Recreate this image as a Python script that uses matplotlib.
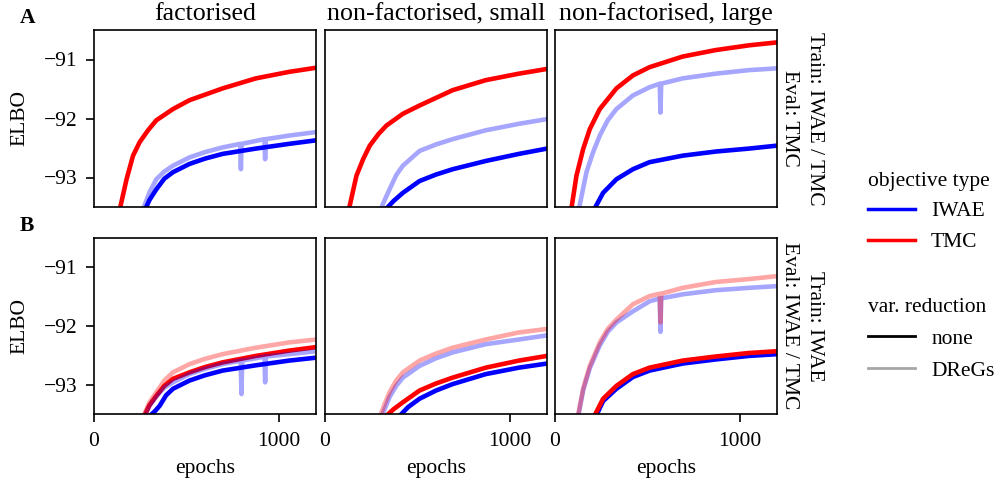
import matplotlib
matplotlib.use("Agg")
import matplotlib.pyplot as plt
from matplotlib.lines import Line2D

plt.rcParams['font.family'] = ['Liberation Serif', 'DejaVu Serif']
plt.rcParams['font.size'] = 15.5

col_titles = ["factorised", "non-factorised, small", "non-factorised, large"]
row_letters = ["A", "B"]
row_train = ["Train: IWAE / TMC", "Train: IWAE"]
row_eval = ["Eval: TMC", "Eval: IWAE / TMC"]
yticks = [-93, -92, -91]
xticks = [0, 1000]

# ---- Row A (Train IWAE/TMC, Eval TMC) ----
A1_tmc_none_x = [135, 176, 211, 247, 292, 337, 427, 516, 695, 875, 1054, 1200]
A1_tmc_none_y = [-93.6, -93.03, -92.63, -92.40, -92.20, -92.03, -91.84, -91.69, -91.49, -91.32, -91.21, -91.14]
A1_iwae_dregs_x = [258, 300, 337, 380, 427, 516, 600, 695, 790, 794, 798, 875, 921, 925, 929, 1054, 1200]
A1_iwae_dregs_y = [-93.6, -93.25, -93.03, -92.90, -92.80, -92.66, -92.57, -92.49, -92.43, -92.86, -92.43, -92.38, -92.35, -92.69, -92.35, -92.29, -92.23]
A1_iwae_none_x = [268, 300, 337, 380, 427, 516, 600, 695, 875, 1054, 1200]
A1_iwae_none_y = [-93.6, -93.38, -93.20, -93.02, -92.91, -92.77, -92.68, -92.60, -92.51, -92.43, -92.37]

A2_tmc_none_x = [125, 170, 206, 242, 290, 332, 421, 511, 690, 869, 1048, 1200]
A2_tmc_none_y = [-93.6, -92.97, -92.69, -92.46, -92.26, -92.12, -91.92, -91.78, -91.52, -91.35, -91.24, -91.16]
A2_iwae_dregs_x = [292, 320, 349, 385, 421, 511, 600, 690, 869, 1048, 1200]
A2_iwae_dregs_y = [-93.6, -93.40, -93.20, -92.96, -92.80, -92.55, -92.44, -92.35, -92.20, -92.09, -92.01]
A2_iwae_none_x = [325, 370, 421, 511, 600, 690, 869, 1048, 1200]
A2_iwae_none_y = [-93.55, -93.40, -93.26, -93.06, -92.95, -92.86, -92.72, -92.60, -92.51]

A3_tmc_none_x = [85, 116, 152, 188, 242, 332, 421, 511, 690, 869, 1048, 1200]
A3_tmc_none_y = [-93.6, -92.97, -92.52, -92.18, -91.84, -91.49, -91.27, -91.13, -90.95, -90.84, -90.76, -90.71]
A3_iwae_dregs_x = [125, 170, 206, 242, 285, 332, 421, 511, 566, 570, 574, 690, 869, 1048, 1200]
A3_iwae_dregs_y = [-93.6, -92.91, -92.57, -92.29, -92.03, -91.84, -91.61, -91.47, -91.41, -91.90, -91.41, -91.32, -91.24, -91.18, -91.15]
A3_iwae_none_x = [210, 260, 332, 421, 511, 690, 869, 1048, 1200]
A3_iwae_none_y = [-93.55, -93.26, -93.03, -92.86, -92.74, -92.63, -92.56, -92.51, -92.46]

# ---- Row B (Train IWAE, Eval IWAE/TMC) ----
B1_tmc_none_x = [262, 300, 337, 380, 427, 516, 600, 695, 875, 1054, 1200]
B1_tmc_none_y = [-93.6, -93.35, -93.19, -93.02, -92.90, -92.79, -92.70, -92.62, -92.51, -92.42, -92.36]
B1_iwae_none_x = [296, 330, 355, 390, 427, 516, 600, 695, 875, 1054, 1200]
B1_iwae_none_y = [-93.55, -93.45, -93.36, -93.18, -93.07, -92.93, -92.84, -92.76, -92.67, -92.59, -92.54]
B1_tmc_dregs_x = [258, 300, 337, 380, 427, 516, 600, 695, 875, 1054, 1200]
B1_tmc_dregs_y = [-93.6, -93.30, -93.13, -92.93, -92.79, -92.65, -92.56, -92.48, -92.37, -92.28, -92.23]
B1_iwae_dregs_x = [264, 300, 337, 380, 427, 516, 600, 695, 793, 797, 801, 875, 921, 925, 929, 1054, 1200]
B1_iwae_dregs_y = [-93.6, -93.36, -93.20, -93.05, -92.96, -92.82, -92.73, -92.65, -92.59, -93.16, -92.59, -92.55, -92.52, -92.96, -92.52, -92.48, -92.43]

B2_tmc_none_x = [325, 370, 421, 511, 600, 690, 869, 1048, 1200]
B2_tmc_none_y = [-93.55, -93.42, -93.30, -93.10, -92.98, -92.88, -92.71, -92.59, -92.51]
B2_iwae_none_x = [398, 450, 511, 600, 690, 869, 1048, 1200]
B2_iwae_none_y = [-93.55, -93.38, -93.24, -93.10, -92.99, -92.82, -92.71, -92.64]
B2_tmc_dregs_x = [290, 320, 349, 385, 421, 511, 600, 690, 869, 1048, 1200]
B2_tmc_dregs_y = [-93.6, -93.35, -93.13, -92.93, -92.79, -92.59, -92.47, -92.37, -92.23, -92.11, -92.05]
B2_iwae_dregs_x = [298, 325, 349, 385, 421, 511, 600, 690, 869, 1048, 1200]
B2_iwae_dregs_y = [-93.6, -93.40, -93.21, -93.02, -92.88, -92.68, -92.55, -92.45, -92.31, -92.23, -92.16]

B3_tmc_none_x = [210, 260, 332, 421, 511, 690, 869, 1048, 1200]
B3_tmc_none_y = [-93.55, -93.24, -93.02, -92.82, -92.71, -92.59, -92.52, -92.46, -92.43]
B3_iwae_none_x = [212, 260, 332, 421, 511, 690, 869, 1048, 1200]
B3_iwae_none_y = [-93.6, -93.28, -93.07, -92.87, -92.76, -92.64, -92.57, -92.51, -92.48]
B3_tmc_dregs_x = [120, 152, 188, 242, 285, 332, 421, 511, 566, 570, 574, 690, 869, 1048, 1200]
B3_tmc_dregs_y = [-93.6, -93.07, -92.68, -92.28, -92.05, -91.89, -91.63, -91.49, -91.45, -91.94, -91.45, -91.35, -91.25, -91.20, -91.15]
B3_iwae_dregs_x = [122, 152, 188, 242, 285, 332, 421, 511, 566, 570, 574, 690, 869, 1048, 1200]
B3_iwae_dregs_y = [-93.6, -93.10, -92.72, -92.33, -92.10, -91.94, -91.75, -91.58, -91.53, -92.10, -91.53, -91.46, -91.39, -91.35, -91.32]

BLUE = (0, 0, 1)
RED = (1, 0, 0)
DREG_ALPHA = 0.35
LW = 3.3

panels = [
    [  # row A
        [(A1_tmc_none_x, A1_tmc_none_y, RED, 1.0), (A1_iwae_none_x, A1_iwae_none_y, BLUE, 1.0),
         (A1_iwae_dregs_x, A1_iwae_dregs_y, BLUE, DREG_ALPHA)],
        [(A2_tmc_none_x, A2_tmc_none_y, RED, 1.0), (A2_iwae_none_x, A2_iwae_none_y, BLUE, 1.0),
         (A2_iwae_dregs_x, A2_iwae_dregs_y, BLUE, DREG_ALPHA)],
        [(A3_tmc_none_x, A3_tmc_none_y, RED, 1.0), (A3_iwae_none_x, A3_iwae_none_y, BLUE, 1.0),
         (A3_iwae_dregs_x, A3_iwae_dregs_y, BLUE, DREG_ALPHA)],
    ],
    [  # row B
        [(B1_iwae_none_x, B1_iwae_none_y, BLUE, 1.0), (B1_tmc_none_x, B1_tmc_none_y, RED, 1.0),
         (B1_iwae_dregs_x, B1_iwae_dregs_y, BLUE, DREG_ALPHA), (B1_tmc_dregs_x, B1_tmc_dregs_y, RED, DREG_ALPHA)],
        [(B2_iwae_none_x, B2_iwae_none_y, BLUE, 1.0), (B2_tmc_none_x, B2_tmc_none_y, RED, 1.0),
         (B2_iwae_dregs_x, B2_iwae_dregs_y, BLUE, DREG_ALPHA), (B2_tmc_dregs_x, B2_tmc_dregs_y, RED, DREG_ALPHA)],
        [(B3_iwae_none_x, B3_iwae_none_y, BLUE, 1.0), (B3_tmc_none_x, B3_tmc_none_y, RED, 1.0),
         (B3_iwae_dregs_x, B3_iwae_dregs_y, BLUE, DREG_ALPHA), (B3_tmc_dregs_x, B3_tmc_dregs_y, RED, DREG_ALPHA)],
    ],
]

W, H = 1000, 482
fig = plt.figure(figsize=(W / 100, H / 100), dpi=100)

col_left = [94, 325, 555]
col_w = 222
row_top = [30, 238]
row_h = [177, 176]

for r in range(2):
    for c in range(3):
        ax = fig.add_axes([col_left[c] / W, 1 - (row_top[r] + row_h[r]) / H, col_w / W, row_h[r] / H])
        for xs, ys, colr, a in panels[r][c]:
            ax.plot(xs, ys, color=colr, alpha=a, lw=LW, solid_joinstyle='round')
        ax.set_xlim(0, 1200)
        ax.set_ylim(-93.5, -90.5)
        ax.set_yticks(yticks)
        ax.set_xticks(xticks)
        for s in ax.spines.values():
            s.set_linewidth(1.2)
        ax.tick_params(length=6, width=1.2)
        ax.tick_params(axis='y', pad=6)
        ax.tick_params(axis='x', pad=7)
        if c == 0:
            ax.set_ylabel("ELBO", labelpad=10)
        else:
            ax.tick_params(axis='y', left=False, labelleft=False)
        if r == 0:
            ax.tick_params(axis='x', bottom=False, labelbottom=False)
            ax.set_title(col_titles[c], pad=7)
        else:
            ax.set_xlabel("epochs", labelpad=6)
            ax.set_xticklabels([str(t) for t in xticks])
        if c == 2:
            yc = 1 - (row_top[r] + row_h[r] / 2) / H
            fig.text(780 / W, yc, row_eval[r], rotation=270, ha='left', va='center')
            fig.text(805 / W, yc, row_train[r], rotation=270, ha='left', va='center')

for r in range(2):
    fig.text(20 / W, 1 - (row_top[r] - 12) / H, row_letters[r], fontweight='bold',
             ha='left', va='center')

obj_handles = [Line2D([], [], color=BLUE, lw=2.5), Line2D([], [], color=RED, lw=2.5)]
leg1 = fig.legend(obj_handles, ["IWAE", "TMC"], title="objective type", frameon=False,
                  loc='upper left', bbox_to_anchor=(0.859, 0.662), handlelength=2.2,
                  handletextpad=0.75, borderaxespad=0, labelspacing=0.5)
var_handles = [Line2D([], [], color='black', lw=2.0), Line2D([], [], color='black', alpha=DREG_ALPHA, lw=2.0)]
leg2 = fig.legend(var_handles, ["none", "DReGs"], title="var. reduction", frameon=False,
                  loc='upper left', bbox_to_anchor=(0.859, 0.40), handlelength=2.2,
                  handletextpad=0.75, borderaxespad=0, labelspacing=0.55)
for lg in (leg1, leg2):
    lg.get_title().set_fontsize(15.5)
    lg._legend_box.align = 'left'

fig.savefig("out.png", dpi=100)
